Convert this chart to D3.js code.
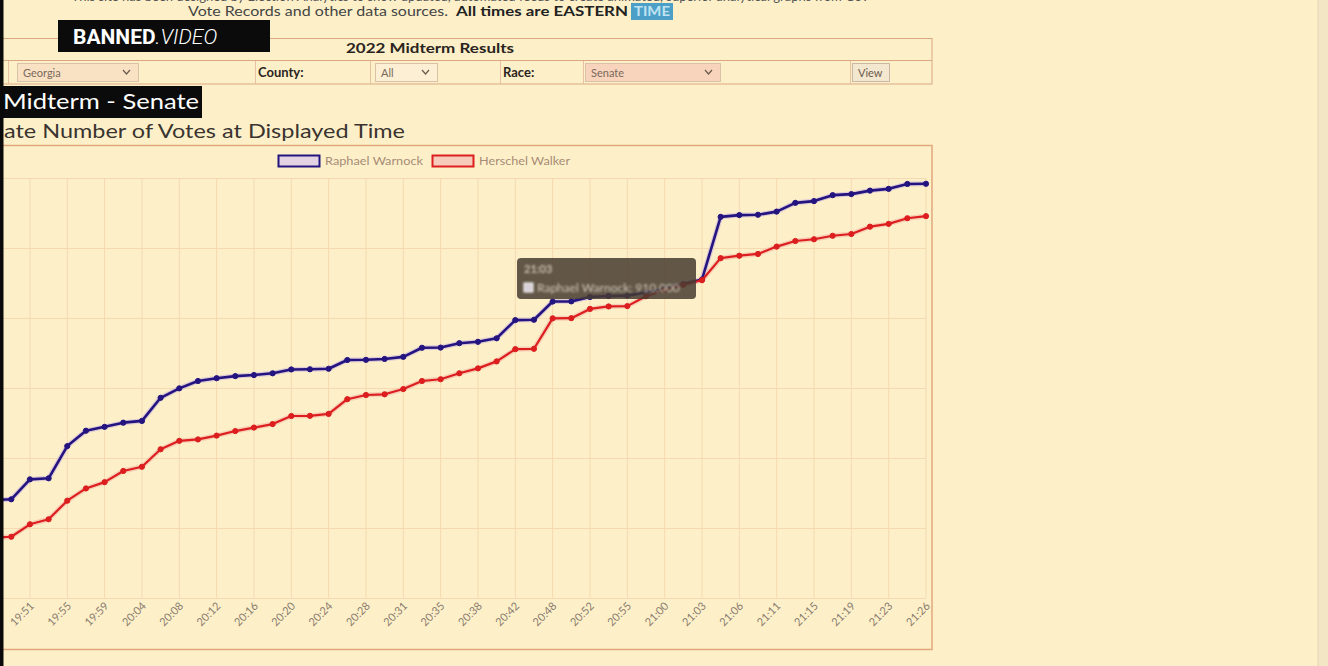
<!DOCTYPE html>
<html><head><meta charset="utf-8">
<script src="https://cdn.jsdelivr.net/npm/d3@7/dist/d3.min.js"></script>
<style>html,body{margin:0;padding:0;background:#fdf0c9;overflow:hidden}</style>
</head><body>
<svg id="c" width="1328" height="666"></svg>
<script>
// ---- data ----
const times = ["19:47","19:49","19:51","19:53","19:55","19:57","19:59","20:01","20:04","20:06","20:08","20:10","20:12","20:14","20:16","20:18","20:20","20:22","20:24","20:26","20:28","20:30","20:31","20:33","20:35","20:37","20:38","20:40","20:42","20:45","20:48","20:50","20:52","20:54","20:55","20:58","21:00","21:01","21:03","21:05","21:06","21:09","21:11","21:13","21:15","21:17","21:19","21:21","21:23","21:24","21:26"];
const warnock = [280000,282000,339000,342000,434000,478000,489000,501000,506000,572000,599000,620000,628000,634000,637000,642000,653000,653500,655000,680000,680500,683000,689000,715000,715500,728000,732000,742000,794000,795000,847000,847500,860000,863000,864000,873000,883000,897000,910000,1089000,1094000,1095000,1104000,1129000,1134000,1151000,1154000,1164000,1169000,1183000,1183500];
const walker = [172000,175000,210600,225000,278000,313000,331000,363000,375000,425000,449000,453000,464000,477000,487000,497000,520000,520500,526000,568000,580000,582000,597000,620000,625000,642000,656000,676000,711000,712000,799000,799500,826000,833000,834000,862000,880000,895000,908000,971000,978000,983000,1004000,1020000,1025000,1035000,1040000,1061000,1069000,1085000,1091000];
const tickLabels = times.filter((t,i)=>i%2===0);
const seriesNames = ["Raphael Warnock","Herschel Walker"];
const yTicks = [0,200000,400000,600000,800000,1000000,1200000];
const tooltipIndex = 38;

const svg = d3.select("#c");
const F = "Lato, 'Noto Sans', sans-serif";

// background
svg.append("rect").attr("width",1328).attr("height",666).attr("fill","#fdf0c9");
svg.append("rect").attr("x",1318).attr("width",10).attr("height",666).attr("fill","#f3e6c4");
svg.append("line").attr("x1",1318).attr("x2",1318).attr("y1",0).attr("y2",666).attr("stroke","#e4d6b4");

// header text
svg.append("text").attr("x",470).attr("y",1).attr("text-anchor","middle").attr("font-family",F)
  .attr("font-size",13).attr("fill","#555")
  .text("This site has been designed by Election Analytics to show updated, automated feeds to create animated, superior analytical graphs from Gov");
svg.append("text").attr("x",188).attr("y",16).attr("font-family",F).attr("font-size",14).attr("fill","#444")
  .attr("textLength",260).attr("lengthAdjust","spacingAndGlyphs").text("Vote Records and other data sources.");
svg.append("text").attr("x",456).attr("y",16).attr("font-family",F).attr("font-size",14).attr("font-weight","bold").attr("fill","#222")
  .attr("textLength",172).attr("lengthAdjust","spacingAndGlyphs").text("All times are EASTERN");
svg.append("rect").attr("x",631).attr("y",3).attr("width",42).attr("height",17).attr("fill","#4c9fc6");
svg.append("text").attr("x",634).attr("y",16).attr("font-family",F).attr("font-size",14).attr("font-weight","bold").attr("fill","#bfe3f2")
  .attr("textLength",36).attr("lengthAdjust","spacingAndGlyphs").text("TIME");

// table
const tb = "#d9a883";
svg.append("rect").attr("x",-5).attr("y",38.5).attr("width",937).attr("height",45.5).attr("fill","none").attr("stroke",tb);
svg.append("line").attr("x1",-5).attr("x2",932).attr("y1",60.5).attr("y2",60.5).attr("stroke",tb);
[8,255,370,500,583,850].forEach(x=>svg.append("line").attr("x1",x+.5).attr("x2",x+.5).attr("y1",61).attr("y2",84).attr("stroke","#e6c2a2"));
svg.append("text").attr("x",430).attr("y",53).attr("text-anchor","middle").attr("font-family",F).attr("font-size",13).attr("font-weight","bold").attr("fill","#2a2420")
  .attr("textLength",168).attr("lengthAdjust","spacingAndGlyphs").text("2022 Midterm Results");
const selects = [
  {x:17,w:121,t:"Georgia",fill:"#f9e1c4"},
  {x:375,w:62,t:"All",fill:"#fcefd3"},
  {x:585,w:135,t:"Senate",fill:"#f7d4bb"}
];
selects.forEach(s=>{
  svg.append("rect").attr("x",s.x+.5).attr("y",63.5).attr("width",s.w).attr("height",18).attr("fill",s.fill).attr("stroke","#d9c2a8");
  svg.append("text").attr("x",s.x+6).attr("y",77).attr("font-family",F).attr("font-size",11).attr("fill","#7a6a5c").text(s.t);
  svg.append("path").attr("d",`M${s.x+s.w-15},70 l3.5,4 l3.5,-4`).attr("fill","none").attr("stroke","#6a5a4c").attr("stroke-width",1.2);
});
svg.append("rect").attr("x",852.5).attr("y",63.5).attr("width",37).attr("height",18).attr("fill","#f4e7cf").attr("stroke","#c9b9a4");
svg.append("text").attr("x",858).attr("y",77).attr("font-family",F).attr("font-size",11).attr("fill","#6a5a4c").text("View");
svg.append("text").attr("x",258).attr("y",77).attr("font-family",F).attr("font-size",13).attr("font-weight","bold").attr("fill","#2a2420").text("County:");
svg.append("text").attr("x",503).attr("y",77).attr("font-family",F).attr("font-size",13).attr("font-weight","bold").attr("fill","#2a2420").text("Race:");

// title boxes
svg.append("rect").attr("x",0).attr("y",86).attr("width",202).attr("height",32).attr("fill","#0b0b0b");
svg.append("text").attr("x",3).attr("y",109).attr("font-family",F).attr("font-size",22).attr("fill","#fff")
  .attr("textLength",196).attr("lengthAdjust","spacingAndGlyphs").text("Midterm - Senate");
svg.append("text").attr("x",4).attr("y",138).attr("font-family",F).attr("font-size",20).attr("fill","#3a3430")
  .attr("textLength",401).attr("lengthAdjust","spacingAndGlyphs").text("ate Number of Votes at Displayed Time");

// chart box
svg.append("rect").attr("x",-10).attr("y",145.5).attr("width",942).attr("height",504).attr("fill","none").attr("stroke","#e2a67e").attr("stroke-width",1.5);

// scales
const x = d3.scalePoint().domain(times).range([-7.4, 926]);
const y = d3.scaleLinear().domain([0,1200000]).range([598,178]);

// grid
const g = svg.append("g");
g.selectAll(".hg").data(yTicks).join("line").attr("x1",-10).attr("x2",926)
  .attr("y1",d=>y(d)+.5).attr("y2",d=>y(d)+.5).attr("stroke","#f6d9b0");
g.selectAll(".vg").data(tickLabels).join("line").attr("x1",d=>x(d)).attr("x2",d=>x(d))
  .attr("y1",178).attr("y2",598).attr("stroke","#f6d9b0");

// x axis labels (only those inside the visible frame)
g.selectAll(".xl").data(tickLabels.filter(d=>x(d)>0)).join("text")
  .attr("transform",d=>`translate(${x(d)+2},${604}) rotate(-45)`)
  .attr("text-anchor","end").attr("dy","0.35em").attr("font-family",F).attr("font-size",11)
  .attr("fill","#8a7c6e").text(d=>d);

// lines
const series = [
  {name:seriesNames[0], vals:warnock, color:"#24147f", halo:"#c9b3dc", w:2.6, fillBox:"#e2d2e2"},
  {name:seriesNames[1], vals:walker, color:"#dc1e1e", halo:"#f3b9a8", w:2.2, fillBox:"#f7cbbb"}
];
const line = d3.line().x((d,i)=>x(times[i])).y(d=>y(d));
series.forEach(s=>{
  g.append("path").datum(s.vals).attr("d",line).attr("fill","none").attr("stroke",s.halo).attr("stroke-width",5).attr("opacity",0.6);
});
series.forEach(s=>{
  g.append("path").datum(s.vals).attr("d",line).attr("fill","none").attr("stroke",s.color).attr("stroke-width",s.w).attr("stroke-linejoin","round");
  g.selectAll(null).data(s.vals).join("circle").attr("cx",(d,i)=>x(times[i])).attr("cy",d=>y(d))
    .attr("r",2.6).attr("fill",s.color).attr("stroke",s.color).attr("stroke-width",1);
});

// legend
const lg = [{x:278},{x:432}];
series.forEach((s,i)=>{
  svg.append("rect").attr("x",lg[i].x+.5).attr("y",155.5).attr("width",41).attr("height",11)
    .attr("fill",s.fillBox).attr("stroke",s.color).attr("stroke-width",2);
  svg.append("text").attr("x",lg[i].x+47).attr("y",165).attr("font-family",F).attr("font-size",12)
    .attr("fill","#a88c76").attr("textLength",i===0?98:91).attr("lengthAdjust","spacingAndGlyphs").text(s.name);
});

// tooltip
const defs = svg.append("defs");
defs.append("filter").attr("id","bl").append("feGaussianBlur").attr("stdDeviation",0.9);
const tt = svg.append("g");
tt.append("rect").attr("x",517).attr("y",258).attr("width",179).attr("height",41).attr("rx",4)
  .attr("fill","rgba(70,60,48,0.85)");
const tg = tt.append("g").attr("filter","url(#bl)");
tg.append("text").attr("x",524).attr("y",273).attr("font-family",F).attr("font-size",11).attr("font-weight","bold")
  .attr("fill","#c8bfb0").text(times[tooltipIndex]);
tg.append("rect").attr("x",524).attr("y",283).attr("width",9).attr("height",9).attr("fill","#d8d0d8").attr("stroke","#fff");
tg.append("text").attr("x",537).attr("y",292).attr("font-family",F).attr("font-size",12)
  .attr("fill","#cfc6b8").text(seriesNames[0]+": "+d3.format(",")(warnock[tooltipIndex]));

// left black strip and logo
svg.append("rect").attr("x",0).attr("y",0).attr("width",3.5).attr("height",666).attr("fill","#0a0a0a");
svg.append("rect").attr("x",58).attr("y",20).attr("width",212).attr("height",32).attr("fill","#0b0b0b");
const bt = svg.append("text").attr("x",73).attr("y",44).attr("font-family","Roboto, Lato, sans-serif").attr("font-size",21).attr("fill","#fff");
bt.append("tspan").attr("font-weight","bold").text("BANNED");
bt.append("tspan").attr("font-style","italic").attr("font-weight",300).text(".VIDEO");
</script></body></html>
